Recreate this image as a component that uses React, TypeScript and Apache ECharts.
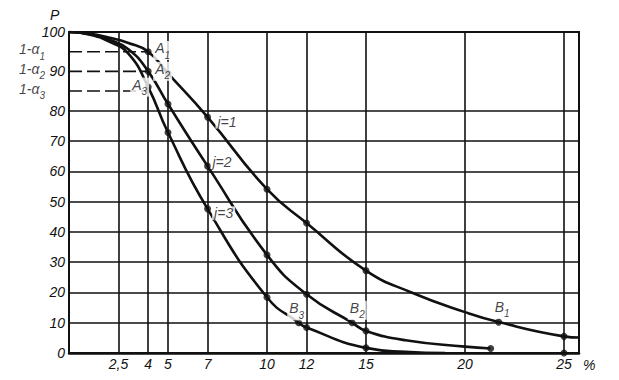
import React, { useEffect, useRef } from "react";
import * as echarts from "echarts";

// ---- axis ticks ----
const xTickValues = [2.5, 4, 5, 7, 10, 12, 15, 20, 25];
const yTickValues = [0, 10, 20, 30, 40, 50, 60, 70, 80, 90, 100];
const yGridValues = [10, 20, 30, 40, 50, 60, 70, 80];
const xMax = 25.76;

// ---- curves (x in %, P) ----
const curveJ1: [number, number][] = [
  [0, 100], [1, 99.6], [2, 98.6], [3, 97.2], [4, 95], [5, 89.5], [7, 77.9],
  [10, 54.1], [12, 42.9], [15, 27.2], [17.3, 20], [20, 13.5], [21.7, 10.2],
  [25, 5.5], [25.76, 5.1],
];
const curveJ2: [number, number][] = [
  [0, 100], [1, 99.5], [2, 98.1], [3, 95.6], [4, 90], [5, 81.7], [7, 61.7],
  [10, 32.4], [12, 19.4], [14.3, 10], [15, 7.3], [17, 4.2], [20, 2.1], [21.3, 1.5],
];
const curveJ3: [number, number][] = [
  [0, 100], [1, 99.4], [2, 97.6], [3, 94.5], [4, 86], [5, 72.8], [7, 47.6],
  [10, 18.4], [11.6, 10], [12, 8.4], [15, 1.7], [17, 0.4], [19, 0],
];

// ---- marked points ----
const pointsJ1: [number, number][] = [[4, 95], [5, 89.5], [7, 77.9], [10, 54.1], [12, 42.9], [15, 27.2], [21.7, 10.2], [25, 5.5]];
const pointsJ2: [number, number][] = [[4, 90], [5, 81.7], [7, 61.7], [10, 32.4], [12, 19.4], [14.3, 10], [15, 7.3], [21.3, 1.5]];
const pointsJ3: [number, number][] = [[4, 86], [5, 72.8], [7, 47.6], [10, 18.4], [11.6, 10], [12, 8.4], [15, 1.7]];
const pointsExtra: [number, number][] = [[25, 0]];

// ---- 1-alpha levels ----
const alphaLevels = [95, 90, 85];
const alphaNames = ["1-α{s|1}", "1-α{s|2}", "1-α{s|3}"];
const alphaEndX = 4;

// ---- annotations ----
const annotations = [
  { text: "A{s|1}", x: 4.73, p: 95.3 },
  { text: "A{s|2}", x: 4.73, p: 90.0 },
  { text: "A{s|3}", x: 3.57, p: 86.0 },
  { text: "j=1", x: 7.98, p: 76.4 },
  { text: "j=2", x: 7.73, p: 63.0 },
  { text: "j=3", x: 7.81, p: 46.1 },
  { text: "B{s|1}", x: 21.88, p: 14.5 },
  { text: "B{s|2}", x: 14.56, p: 14.1 },
  { text: "B{s|3}", x: 11.5, p: 13.9 },
];

// the P scale is drawn stretched above 80
const STRETCH_FROM = 80;
const STRETCH = 1.3;
const T = (p: number) => (p <= STRETCH_FROM ? p : STRETCH_FROM + (p - STRETCH_FROM) * STRETCH);
const Tinv = (v: number) => (v <= STRETCH_FROM ? v : STRETCH_FROM + (v - STRETCH_FROM) / STRETCH);
const toDisp = (arr: [number, number][]) => arr.map(([x, p]) => [x, T(p)]);

const FONT = "Liberation Sans";
const INK = "#111";

const richMain = (size: number) => ({
  m: { fontSize: size, verticalAlign: "top", fontStyle: "italic", fontFamily: FONT, color: INK },
  s: { fontSize: 10, lineHeight: 19, verticalAlign: "bottom", fontStyle: "italic", fontFamily: FONT, color: INK },
});

export default function App() {
  const ref = useRef<HTMLDivElement>(null);
  useEffect(() => {
    if (!ref.current) return;
    const chart = echarts.init(ref.current, undefined, { renderer: "svg" });
    const wrap = (t: string) => t.replace(/^([^{]+)/, "{m|$1}");

    const curveSeries = [curveJ1, curveJ2, curveJ3].map((c, i) => ({
      type: "line",
      name: "j=" + (i + 1),
      data: toDisp(c),
      smooth: 0.5,
      showSymbol: false,
      symbol: "none",
      lineStyle: { color: INK, width: 2.6 },
      z: 3,
      silent: true,
    }));

    const dotSeries = {
      type: "scatter",
      data: toDisp([...pointsJ1, ...pointsJ2, ...pointsJ3, ...pointsExtra]),
      symbol: "circle",
      symbolSize: 7,
      itemStyle: { color: INK },
      z: 4,
      silent: true,
    };

    const dashSeries = alphaLevels.map((lv) => ({
      type: "line",
      data: [[0, T(lv)], [alphaEndX, T(lv)]],
      showSymbol: false,
      symbol: "none",
      lineStyle: { color: INK, width: 1.6, type: [13, 5] },
      z: 2,
      silent: true,
    }));

    const gridSeries = {
      type: "line",
      data: [],
      silent: true,
      z: 1,
      markLine: {
        silent: true,
        symbol: ["none", "none"],
        label: { show: false },
        lineStyle: { color: INK, width: 1.6, type: "solid" },
        data: [
          ...xTickValues.map((v) => ({ xAxis: v })),
          ...yGridValues.map((p) => ({ yAxis: T(p) })),
        ],
      },
    };

    const annotationSeries = {
      type: "scatter",
      symbolSize: 0,
      silent: true,
      z: 6,
      data: annotations.map((a) => ({
        value: [a.x, T(a.p)],
        label: {
          show: true,
          position: "inside",
          formatter: wrap(a.text),
          backgroundColor: "#fff",
          padding: [0, 2, 0, 2],
          rich: richMain(14),
        },
      })),
    };

    const alphaLabelSeries = {
      type: "scatter",
      symbolSize: 0,
      silent: true,
      z: 6,
      data: alphaLevels.map((lv, i) => ({
        value: [0, T(lv)],
        label: {
          show: true,
          position: "left",
          distance: 24,
          formatter: wrap(alphaNames[i]),
          rich: richMain(14),
        },
      })),
    };

    chart.setOption({
      animation: false,
      backgroundColor: "#fff",
      grid: {
        left: 69,
        right: 40,
        top: 32,
        bottom: 27,
        show: true,
        borderColor: INK,
        borderWidth: 2,
      },
      xAxis: {
        type: "value",
        min: 0,
        max: xMax,
        axisLine: { show: true, lineStyle: { color: INK, width: 2.5 } },
        axisTick: { show: false },
        splitLine: { show: false },
        axisLabel: {
          customValues: xTickValues,
          margin: 4,
          color: INK,
          fontFamily: FONT,
          fontStyle: "italic",
          fontSize: 14,
          formatter: (v: number) => String(v).replace(".", ","),
        },
      },
      yAxis: {
        type: "value",
        min: 0,
        max: T(100),
        axisLine: { show: true, lineStyle: { color: INK, width: 2 } },
        axisTick: { show: false },
        splitLine: { show: false },
        axisLabel: {
          customValues: yTickValues.map(T),
          margin: 4,
          color: INK,
          fontFamily: FONT,
          fontStyle: "italic",
          fontSize: 14,
          formatter: (v: number) => String(Math.round(Tinv(v))),
        },
      },
      graphic: [
        { type: "text", left: 50, top: 8, style: { text: "P", font: `italic 14px '${FONT}'`, fill: INK } },
        { type: "text", left: 583, top: 358, style: { text: "%", font: `italic 14px '${FONT}'`, fill: INK } },
      ],
      series: [gridSeries, ...dashSeries, ...curveSeries, dotSeries, annotationSeries, alphaLabelSeries],
    });
    return () => chart.dispose();
  }, []);
  return <div ref={ref} style={{ position: "fixed", left: 0, top: 0, width: 619, height: 380 }} />;
}
